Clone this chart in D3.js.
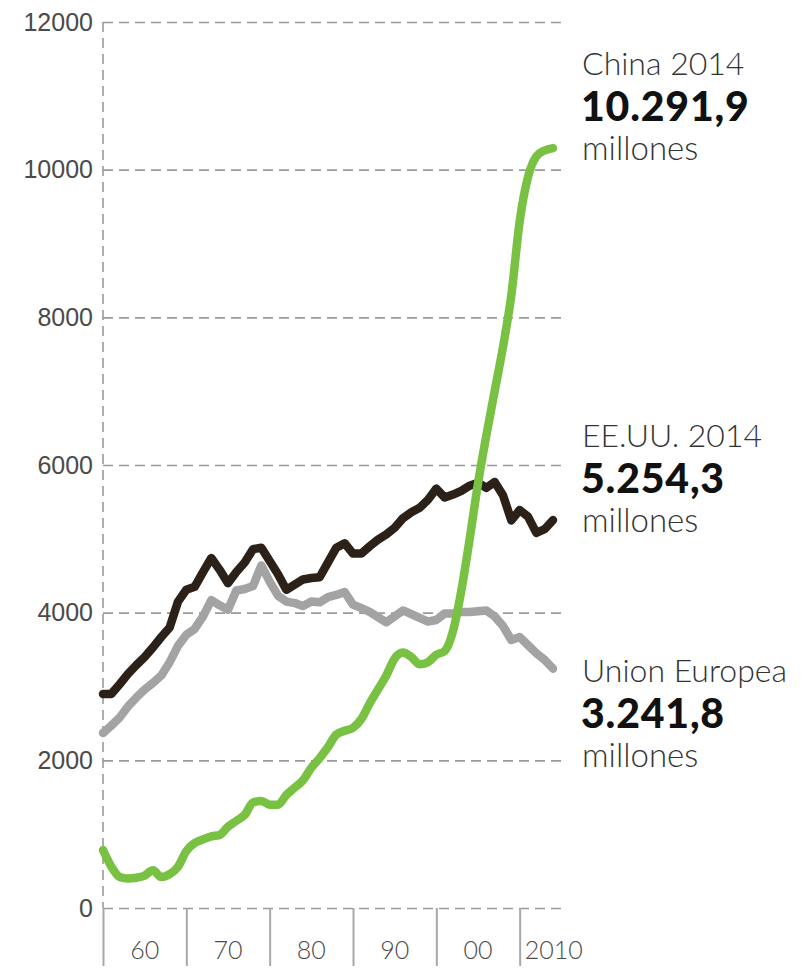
<!DOCTYPE html>
<html lang="es">
<head>
<meta charset="UTF-8" />
<title>Emisiones CO2</title>
<style>
  html, body { margin: 0; padding: 0; background: #fff; }
  svg { display: block; font-family: Lato, "Open Sans", sans-serif; }
</style>
</head>
<body>
<svg id="svg" width="804" height="968"></svg>
<script src="https://d3js.org/d3.v7.min.js"></script>
<script>
// years 1960 - 2014
const years = d3.range(1960, 2015);

const china = [785, 560, 420, 400, 410, 440, 510, 420, 460, 560,
  770, 880, 930, 970, 990, 1100, 1180, 1260, 1430, 1450,
  1400, 1400, 1530, 1630, 1730, 1900, 2030, 2180, 2350, 2400,
  2440, 2560, 2770, 2960, 3150, 3380, 3460, 3400, 3300, 3330,
  3430, 3480, 3750, 4300, 5000, 5750, 6400, 7000, 7600, 8300,
  9300, 9900, 10180, 10260, 10291.9];

const usa = [2900, 2900, 3030, 3170, 3290, 3400, 3530, 3670, 3800, 4150,
  4310, 4350, 4550, 4740, 4580, 4400, 4550, 4680, 4860, 4880,
  4700, 4520, 4310, 4380, 4450, 4470, 4480, 4680, 4880, 4940,
  4800, 4800, 4900, 4990, 5060, 5150, 5280, 5360, 5420, 5530,
  5680, 5560, 5600, 5650, 5720, 5760, 5690, 5770, 5590, 5250,
  5390, 5300, 5080, 5130, 5254.3];

const eu = [2370, 2470, 2580, 2730, 2850, 2960, 3050, 3150, 3330, 3550,
  3700, 3780, 3950, 4170, 4100, 4040, 4300, 4320, 4360, 4640,
  4420, 4230, 4150, 4130, 4090, 4150, 4140, 4210, 4240, 4280,
  4110, 4060, 4010, 3940, 3870, 3950, 4030, 3980, 3930, 3880,
  3900, 3990, 3990, 4010, 4010, 4020, 4030, 3950, 3820, 3630,
  3670, 3560, 3450, 3360, 3241.8];

const yTicks = [0, 2000, 4000, 6000, 8000, 10000, 12000];
const decadeTicks = [1960, 1970, 1980, 1990, 2000, 2010];
const decadeLabels = ["60", "70", "80", "90", "00", "2010"];

const notes = [
  { title: "China 2014", value: "10.291,9", unit: "millones", y: 75 },
  { title: "EE.UU. 2014", value: "5.254,3", unit: "millones", y: 447 },
  { title: "Union Europea", value: "3.241,8", unit: "millones", y: 682 }
];

const svg = d3.select("#svg");
const x = d3.scaleLinear().domain([1960, 2014]).range([103, 553]);
const y = d3.scaleLinear().domain([0, 12000]).range([908, 22]);
const gridRight = 562;

// horizontal grid + y labels
const yAxis = svg.append("g")
  .attr("transform", "translate(103,0)")
  .call(d3.axisLeft(y).tickValues(yTicks).tickSize(-(gridRight - 103)).tickPadding(10).tickFormat(d => d));
yAxis.select(".domain").remove();
yAxis.selectAll(".tick line")
  .attr("stroke", "#9a9a9a").attr("stroke-width", 1.6).attr("stroke-dasharray", "10,6");
yAxis.selectAll(".tick text")
  .attr("fill", "#4a4a4a").attr("font-size", 25).attr("font-weight", 300);

// left dashed vertical
svg.append("line")
  .attr("x1", x(1960)).attr("x2", x(1960))
  .attr("y1", y(12000)).attr("y2", y(0))
  .attr("stroke", "#9a9a9a").attr("stroke-width", 1.6).attr("stroke-dasharray", "10,6");

// x axis decade separators
const xAxis = svg.append("g")
  .attr("transform", `translate(0,${y(0)})`)
  .call(d3.axisBottom(x).tickValues(decadeTicks).tickSize(58).tickFormat(""));
xAxis.select(".domain").remove();
xAxis.selectAll(".tick line").attr("stroke", "#a8a8a8").attr("stroke-width", 2);

svg.append("g").selectAll("text")
  .data(decadeLabels)
  .join("text")
  .attr("x", (d, i) => i < decadeLabels.length - 1 ? (x(decadeTicks[i]) + x(decadeTicks[i] + 10)) / 2 : x(decadeTicks[i]) + 5)
  .attr("y", 959)
  .attr("text-anchor", (d, i) => i < decadeLabels.length - 1 ? "middle" : "start")
  .attr("fill", "#4a4a4a")
  .attr("font-size", 25)
  .attr("font-weight", 300)
  .text(d => d);

// lines
const line = d3.line().x((d, i) => x(years[i])).y(d => y(d));
const series = [
  { values: eu, color: "#a3a3a3", curve: d3.curveLinear },
  { values: usa, color: "#2b2119", curve: d3.curveLinear },
  { values: china, color: "#78c142", curve: d3.curveMonotoneX }
];
svg.append("g").selectAll("path")
  .data(series)
  .join("path")
  .attr("d", d => line.curve(d.curve)(d.values))
  .attr("fill", "none")
  .attr("stroke", d => d.color)
  .attr("stroke-width", 8.5)
  .attr("stroke-linejoin", "round")
  .attr("stroke-linecap", "round");

// annotations
const ann = svg.append("g").selectAll("g").data(notes).join("g");
ann.append("text").attr("x", 582).attr("y", d => d.y)
  .attr("font-size", 32).attr("font-weight", 300).attr("fill", "#333").text(d => d.title);
ann.append("text").attr("x", 581).attr("y", d => d.y + 46)
  .attr("font-size", 41).attr("font-weight", 900).attr("letter-spacing", 0.8).attr("fill", "#111").text(d => d.value);
ann.append("text").attr("x", 582).attr("y", d => d.y + 85)
  .attr("font-size", 33).attr("font-weight", 300).attr("fill", "#333").text(d => d.unit);
</script>
</body>
</html>
